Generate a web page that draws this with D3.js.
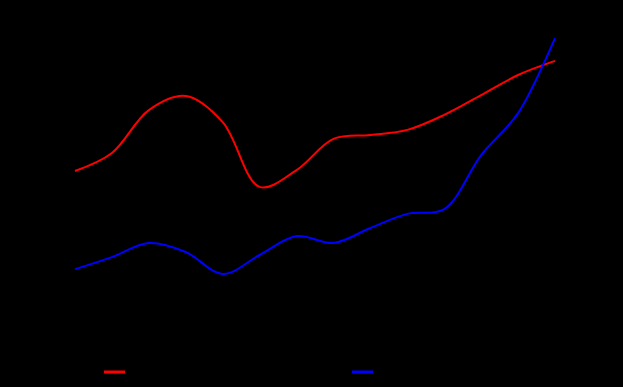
<!DOCTYPE html>
<html>
<head>
<meta charset="utf-8">
<script src="https://cdn.jsdelivr.net/npm/d3@7"></script>
<style>
  html, body { margin: 0; padding: 0; background: #000; }
  svg { display: block; }
</style>
</head>
<body>
<script>
// base data
const years = ['2000', '2001', '2002', '2003', '2004', '2005', '2006',
               '2007', '2008', '2009', '2010', '2011', '2012', '2013'];
const seriesA = [53, 59, 73.3, 78, 69.3, 47.7, 53.3, 63.7, 65, 66.7, 71.7, 78.3, 85, 89.7];
const seriesB = [20.3, 24.3, 29, 26, 18.7, 25, 31.3, 29, 34, 38.7, 40.3, 58.3, 72.3, 97.3];
const seriesNames = ['Series A', 'Series B'];
const yTicks = [0, 20, 40, 60, 80, 100];

// constants
const width = 623;
const height = 387;
const margin = { top: 30, bottom: 57, left: 75, right: 68 };

const svg = d3.select('body').append('svg')
    .attr('width', width).attr('height', height);

// scales
const xScale = d3.scalePoint()
    .domain(years)
    .range([margin.left, width - margin.right]);

const yScale = d3.scaleLinear()
    .domain([0, 100])
    .range([height - margin.bottom, margin.top]);

// axes (black on black, as in the reference)
svg.append('g').attr('class', 'xAxis')
    .attr('transform', `translate(0, ${height - margin.bottom})`)
    .call(d3.axisBottom(xScale))
    .call(g => g.selectAll('line,path').attr('stroke', '#000'))
    .call(g => g.selectAll('text').attr('fill', '#000'));

svg.append('g').attr('class', 'yAxis')
    .attr('transform', `translate(${margin.left - 10}, 0)`)
    .call(d3.axisLeft(yScale).tickValues(yTicks))
    .call(g => g.selectAll('line,path').attr('stroke', '#000'))
    .call(g => g.selectAll('text').attr('fill', '#000'));

// lines
const line = d3.line()
    .x((d, i) => xScale(years[i]))
    .y(d => yScale(d))
    .curve(d3.curveCatmullRom);

const colors = ['#ff0000', '#0000ff'];
[seriesA, seriesB].forEach((s, i) => {
  svg.append('path').datum(s)
      .attr('d', line)
      .attr('fill', 'none')
      .attr('stroke', colors[i])
      .attr('stroke-width', 2);
});

// legend
const legend = svg.append('g').attr('class', 'legend');
seriesNames.forEach((name, i) => {
  const lx = 104 + i * 248;
  legend.append('line')
      .attr('x1', lx).attr('x2', lx + 21)
      .attr('y1', 372).attr('y2', 372)
      .attr('stroke', colors[i]).attr('stroke-width', 3);
  legend.append('text')
      .attr('x', lx + 27).attr('y', 376)
      .attr('font-family', 'DejaVu Sans').attr('font-size', 12)
      .attr('fill', '#000')
      .text(name);
});
</script>
</body>
</html>
